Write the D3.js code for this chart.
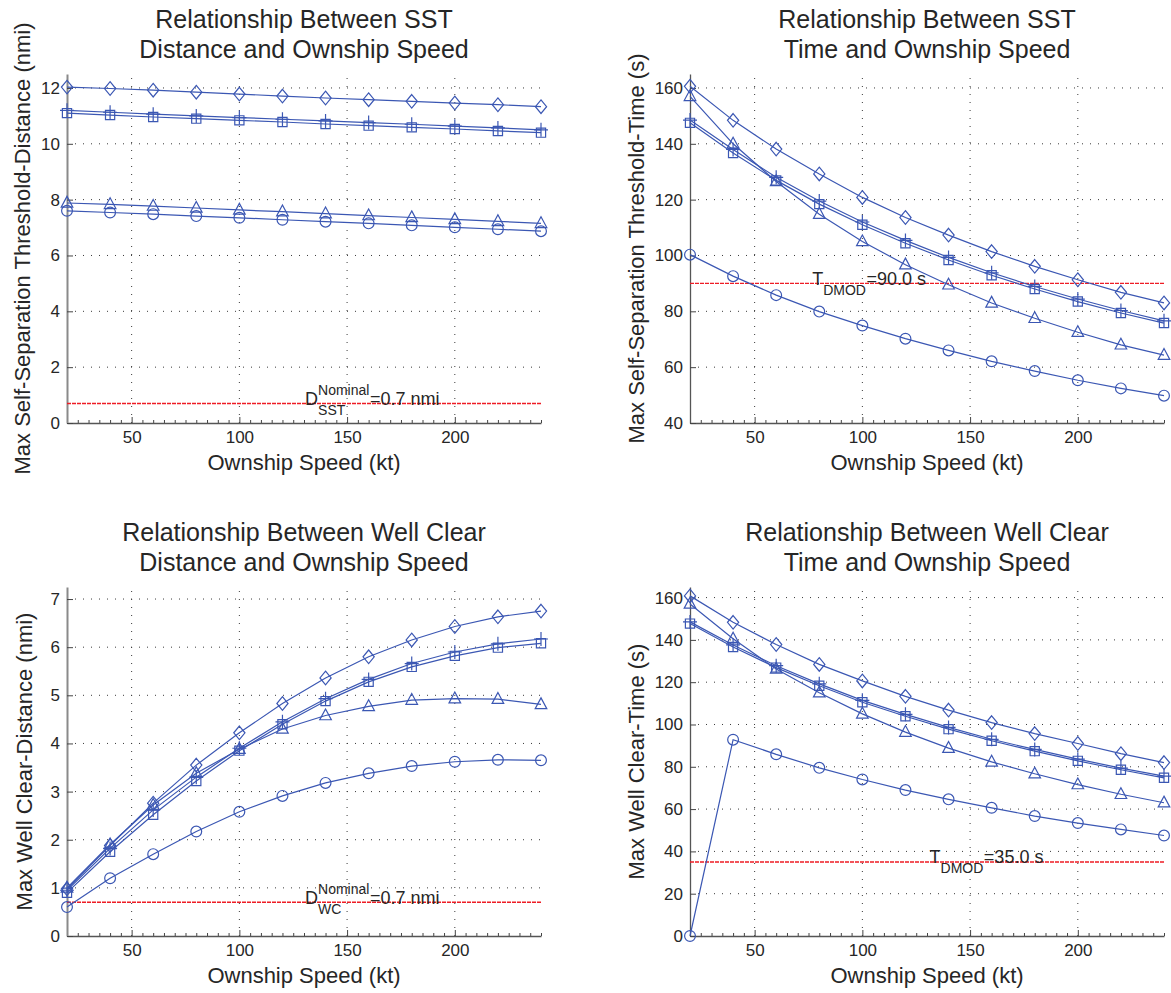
<!DOCTYPE html>
<html>
<head>
<meta charset="utf-8">
<script src="https://cdn.jsdelivr.net/npm/d3@7"></script>
<style>
  body { margin: 0; background: #fff; }
  svg { display: block; }
  text { font-family: "Liberation Sans", Arial, Helvetica, sans-serif; fill: #262626; }
</style>
</head>
<body>
<svg id="fig" width="1171" height="993"></svg>
<script>
// Ownship speeds (kt) shared by all four panels
const speeds = [20, 40, 60, 80, 100, 120, 140, 160, 180, 200, 220, 240];
const speedTicks = [50, 100, 150, 200];

// Self-separation threshold distance (nmi)
const sstDistDiamond  = [12.03, 11.98, 11.92, 11.85, 11.78, 11.71, 11.64, 11.58, 11.52, 11.46, 11.40, 11.33];
const sstDistPlus     = [11.20, 11.13, 11.06, 11.00, 10.94, 10.88, 10.82, 10.76, 10.70, 10.63, 10.57, 10.50];
const sstDistSquare   = [11.10, 11.03, 10.96, 10.90, 10.84, 10.78, 10.71, 10.65, 10.59, 10.53, 10.46, 10.40];
const sstDistTriangle = [7.88, 7.83, 7.77, 7.70, 7.63, 7.57, 7.50, 7.43, 7.36, 7.29, 7.22, 7.15];
const sstDistCircle   = [7.60, 7.54, 7.48, 7.41, 7.35, 7.28, 7.21, 7.15, 7.08, 7.01, 6.94, 6.87];
const sstDistTicks = [0, 2, 4, 6, 8, 10, 12];
const sstDistNominal = 0.7;

// Self-separation threshold time (s)
const sstTimeDiamond  = [160.6, 148.4, 138.1, 129.2, 120.8, 113.6, 107.3, 101.4, 96.1, 91.3, 86.8, 83.0];
const sstTimePlus     = [148.5, 138.0, 128.0, 119.5, 112.0, 105.4, 99.3, 93.8, 88.9, 84.4, 80.3, 76.6];
const sstTimeSquare   = [147.5, 136.7, 126.9, 118.4, 111.0, 104.4, 98.4, 92.9, 88.0, 83.5, 79.4, 75.8];
const sstTimeTriangle = [157.0, 140.0, 126.5, 114.8, 105.0, 96.7, 89.5, 83.0, 77.5, 72.5, 68.0, 64.3];
const sstTimeCircle   = [100.3, 92.6, 85.8, 79.9, 74.9, 70.2, 66.0, 62.1, 58.6, 55.3, 52.4, 49.8];
const sstTimeTicks = [40, 60, 80, 100, 120, 140, 160];
const sstTimeDmod = 90.0;

// Well clear distance (nmi)
const wcDistDiamond  = [0.98, 1.88, 2.76, 3.55, 4.22, 4.83, 5.36, 5.80, 6.15, 6.43, 6.63, 6.75];
const wcDistPlus     = [0.95, 1.82, 2.62, 3.30, 3.90, 4.45, 4.93, 5.33, 5.66, 5.90, 6.07, 6.17];
const wcDistSquare   = [0.90, 1.75, 2.52, 3.22, 3.85, 4.40, 4.88, 5.28, 5.59, 5.82, 5.99, 6.08];
const wcDistTriangle = [1.00, 1.90, 2.72, 3.38, 3.88, 4.30, 4.58, 4.77, 4.90, 4.93, 4.92, 4.81];
const wcDistCircle   = [0.60, 1.20, 1.70, 2.17, 2.58, 2.91, 3.18, 3.38, 3.53, 3.62, 3.66, 3.65];
const wcDistTicks = [0, 1, 2, 3, 4, 5, 6, 7];
const wcDistNominal = 0.7;

// Well clear time (s)
const wcTimeDiamond  = [160.8, 148.3, 137.8, 128.4, 120.6, 113.3, 106.8, 100.9, 95.7, 91.0, 86.2, 82.0];
const wcTimePlus     = [148.5, 137.6, 127.8, 119.2, 111.4, 104.8, 98.6, 93.0, 88.2, 83.6, 79.4, 75.6];
const wcTimeSquare   = [147.7, 136.6, 126.9, 118.3, 110.5, 103.9, 97.8, 92.3, 87.4, 82.8, 78.6, 74.8];
const wcTimeTriangle = [157.0, 140.5, 126.2, 115.0, 105.0, 96.4, 88.8, 82.3, 76.7, 71.6, 67.0, 63.0];
const wcTimeCircle   = [0.0, 92.8, 85.9, 79.5, 74.0, 69.0, 64.6, 60.6, 56.7, 53.4, 50.4, 47.5];
const wcTimeTicks = [0, 20, 40, 60, 80, 100, 120, 140, 160];
const wcTimeDmod = 35.0;

const LINE_BLUE = "#3b57b3";
const REF_RED = "#ee1c25";

const svg = d3.select("#fig");

// open marker shapes drawn around (0,0)
function markerPath(kind) {
  switch (kind) {
    case "diamond": return "M0,-6.8L5.6,0L0,6.8L-5.6,0Z";
    case "square": return "M-4.6,-4.6H4.6V4.6H-4.6Z";
    case "plus": return "M0,-7V7M-7,0H7";
    case "triangle": return "M0,-6.6L5.8,4.2H-5.8Z";
    case "circle": return "M5.4,0A5.4,5.4 0 1,1 -5.4,0A5.4,5.4 0 1,1 5.4,0Z";
  }
}

function drawPanel(p) {
  const g = svg.append("g");
  const x = d3.scaleLinear().domain([20, 240]).range([p.left, p.right]);
  const y = d3.scaleLinear().domain(p.yDomain).range([p.bottom, p.top]);

  // dotted grid
  const grid = g.append("g").attr("stroke", "#3a3a3a").attr("stroke-width", 1)
    .attr("stroke-dasharray", "1,7").attr("fill", "none");
  speedTicks.forEach(v => grid.append("line")
    .attr("x1", x(v)).attr("x2", x(v)).attr("y1", p.bottom).attr("y2", p.top));
  p.yTicks.filter(v => v !== p.yDomain[0]).forEach(v => grid.append("line")
    .attr("x1", p.left).attr("x2", p.right).attr("y1", y(v)).attr("y2", y(v)));

  // minor x ticks (inside)
  const minor = d3.range(25, 241, 5).filter(v => !speedTicks.includes(v));
  g.append("g").attr("transform", `translate(0,${p.bottom})`)
    .call(d3.axisBottom(x).tickValues(minor).tickSize(-3).tickFormat(""))
    .call(a => a.select(".domain").remove())
    .call(a => a.selectAll("line").attr("stroke", "#444"));

  // x axis
  const xa = g.append("g").attr("transform", `translate(0,${p.bottom})`)
    .call(d3.axisBottom(x).tickValues(speedTicks).tickSizeInner(-6).tickSizeOuter(0).tickPadding(8));
  xa.selectAll("text").attr("font-size", 17).attr("fill", "#262626")
    .attr("font-family", "Liberation Sans, Arial, sans-serif");
  xa.select(".domain").attr("stroke", "#555").attr("stroke-width", 1.3);
  xa.selectAll(".tick line").attr("stroke", "#444");

  // y axis
  const ya = g.append("g").attr("transform", `translate(${p.left},0)`)
    .call(d3.axisLeft(y).tickValues(p.yTicks).tickSizeInner(-6).tickSizeOuter(0).tickPadding(7));
  ya.selectAll("text").attr("font-size", 17).attr("fill", "#262626")
    .attr("font-family", "Liberation Sans, Arial, sans-serif");
  ya.select(".domain").attr("stroke", p.axisColor).attr("stroke-width", p.axisWidth);
  ya.selectAll(".tick line").attr("stroke", "#444");

  // reference line
  g.append("line").attr("x1", p.left).attr("x2", p.right)
    .attr("y1", y(p.refValue)).attr("y2", y(p.refValue))
    .attr("stroke", REF_RED).attr("stroke-width", 1.4).attr("stroke-dasharray", "4,1");

  // series
  const line = d3.line().x((d, i) => x(speeds[i])).y(d => y(d));
  p.series.forEach(s => {
    g.append("path").datum(s.values).attr("d", line)
      .attr("fill", "none").attr("stroke", LINE_BLUE).attr("stroke-width", 1.2);
    g.append("g").selectAll("path").data(s.values).join("path")
      .attr("transform", (d, i) => `translate(${x(speeds[i])},${y(d)})`)
      .attr("d", markerPath(s.marker))
      .attr("fill", "none").attr("stroke", LINE_BLUE).attr("stroke-width", 1.2);
  });

  // reference annotation: main letter, stacked super/subscript, value
  const bx = x(p.refLabelAt), by = y(p.refValue) + 1.5;
  const ann = g.append("g");
  const main = ann.append("text").attr("x", bx).attr("y", by).attr("font-size", 18).text(p.refMain);
  const w0 = main.node().getComputedTextLength();
  let wStack = 0;
  if (p.refSup) {
    const t = ann.append("text").attr("x", bx + w0).attr("y", by - 9.5).attr("font-size", 14).text(p.refSup);
    wStack = Math.max(wStack, t.node().getComputedTextLength());
  }
  if (p.refSub) {
    const t = ann.append("text").attr("x", bx + w0).attr("y", by + 10).attr("font-size", 14).text(p.refSub);
    wStack = Math.max(wStack, t.node().getComputedTextLength());
  }
  ann.append("text").attr("x", bx + w0 + wStack + 0.5).attr("y", by).attr("font-size", 18).text(p.refTail);

  // titles and labels
  const cx = (p.left + p.right) / 2;
  g.append("text").attr("x", cx).attr("y", p.top - 46).attr("text-anchor", "middle")
    .attr("font-size", 25).text(p.title[0]);
  g.append("text").attr("x", cx).attr("y", p.top - 16).attr("text-anchor", "middle")
    .attr("font-size", 25).text(p.title[1]);
  g.append("text").attr("x", cx).attr("y", p.bottom + 47).attr("text-anchor", "middle")
    .attr("font-size", 22).text("Ownship Speed (kt)");
  g.append("text")
    .attr("transform", `translate(${p.left - p.yLabelGap},${(p.top + p.bottom) / 2}) rotate(-90)`)
    .attr("text-anchor", "middle").attr("dominant-baseline", "central")
    .attr("font-size", 22).text(p.yLabel);
}

const fmt = v => v.toFixed(1);

drawPanel({
  left: 67, right: 541, top: 74, bottom: 423, yDomain: [0, 12.5], yTicks: sstDistTicks,
  axisColor: "#8a8a8a", axisWidth: 2,
  title: ["Relationship Between SST", "Distance and Ownship Speed"],
  yLabel: "Max Self-Separation Threshold-Distance (nmi)", yLabelGap: 45,
  refValue: sstDistNominal, refLabelAt: 130.5, refMain: "D", refSup: "Nominal", refSub: "SST",
  refTail: "=" + fmt(sstDistNominal) + " nmi",
  series: [
    { marker: "diamond", values: sstDistDiamond },
    { marker: "plus", values: sstDistPlus },
    { marker: "square", values: sstDistSquare },
    { marker: "triangle", values: sstDistTriangle },
    { marker: "circle", values: sstDistCircle }
  ]
});

drawPanel({
  left: 690, right: 1164, top: 74, bottom: 423, yDomain: [40, 165], yTicks: sstTimeTicks,
  axisColor: "#555", axisWidth: 1.3,
  title: ["Relationship Between SST", "Time and Ownship Speed"],
  yLabel: "Max Self-Separation Threshold-Time (s)", yLabelGap: 54,
  refValue: sstTimeDmod, refLabelAt: 76.7, refMain: "T", refSup: null, refSub: "DMOD",
  refTail: "=" + fmt(sstTimeDmod) + " s",
  series: [
    { marker: "diamond", values: sstTimeDiamond },
    { marker: "plus", values: sstTimePlus },
    { marker: "square", values: sstTimeSquare },
    { marker: "triangle", values: sstTimeTriangle },
    { marker: "circle", values: sstTimeCircle }
  ]
});

drawPanel({
  left: 67, right: 541, top: 587, bottom: 936, yDomain: [0, 7.25], yTicks: wcDistTicks,
  axisColor: "#8a8a8a", axisWidth: 2,
  title: ["Relationship Between Well Clear", "Distance and Ownship Speed"],
  yLabel: "Max Well Clear-Distance (nmi)", yLabelGap: 43,
  refValue: wcDistNominal, refLabelAt: 130.5, refMain: "D", refSup: "Nominal", refSub: "WC",
  refTail: "=" + fmt(wcDistNominal) + " nmi",
  series: [
    { marker: "diamond", values: wcDistDiamond },
    { marker: "plus", values: wcDistPlus },
    { marker: "square", values: wcDistSquare },
    { marker: "triangle", values: wcDistTriangle },
    { marker: "circle", values: wcDistCircle }
  ]
});

drawPanel({
  left: 690, right: 1164, top: 587, bottom: 936, yDomain: [0, 165], yTicks: wcTimeTicks,
  axisColor: "#555", axisWidth: 1.3,
  title: ["Relationship Between Well Clear", "Time and Ownship Speed"],
  yLabel: "Max Well Clear-Time (s)", yLabelGap: 54,
  refValue: wcTimeDmod, refLabelAt: 131.2, refMain: "T", refSup: null, refSub: "DMOD",
  refTail: "=" + fmt(wcTimeDmod) + " s",
  series: [
    { marker: "diamond", values: wcTimeDiamond },
    { marker: "plus", values: wcTimePlus },
    { marker: "square", values: wcTimeSquare },
    { marker: "triangle", values: wcTimeTriangle },
    { marker: "circle", values: wcTimeCircle }
  ]
});
</script>
</body>
</html>
